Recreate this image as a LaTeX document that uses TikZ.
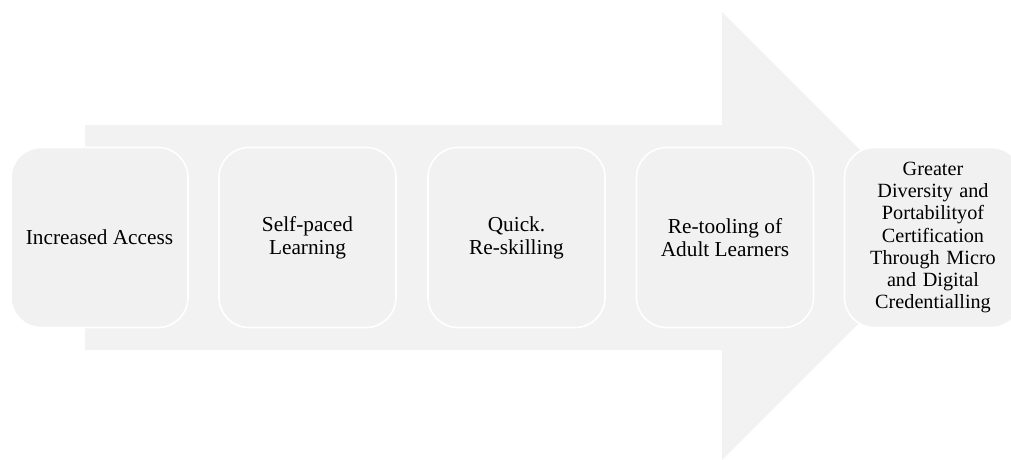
\documentclass[tikz,border=0pt]{standalone}
\usepackage{fontspec}
\setmainfont{Liberation Serif}
\definecolor{arrowgray}{HTML}{F2F2F2}
\definecolor{boxgray}{HTML}{F1F1F1}
\tikzset{
  stepbox/.style={draw=white, line width=1.6pt, fill=boxgray, rounded corners=30pt,
    minimum width=177pt, minimum height=180pt, align=center, inner sep=2pt,
    font=\fontsize{21.3}{23}\selectfont, text=black},
}
\begin{document}
\begin{tikzpicture}[x=1pt,y=-1pt]
\useasboundingbox (0,0) rectangle (1011,460);
\clip (0,0) rectangle (1011,460);
\fill[arrowgray] (85,125) -- (722,125) -- (722,12) -- (946,236) -- (722,460) -- (722,350) -- (85,350) -- cycle;
\node[stepbox] (b1) at (99.5,237.5) {Increased Access};
\node[stepbox] (b2) at (307.5,237.5) {Self-paced\\Learning};
\node[stepbox] (b3) at (516.5,237.5) {Quick.\\Re-skilling};
\node[stepbox] (b4) at (725,237.5) {Re-tooling of\\Adult Learners};
\node[stepbox, font=\fontsize{20.2}{22.2}\selectfont, text width=160pt] (b5) at (933,237.5) {Greater\\Diversity and\\Portabilityof\\Certification\\Through Micro\\and Digital\\Credentialling};
\end{tikzpicture}
\end{document}
